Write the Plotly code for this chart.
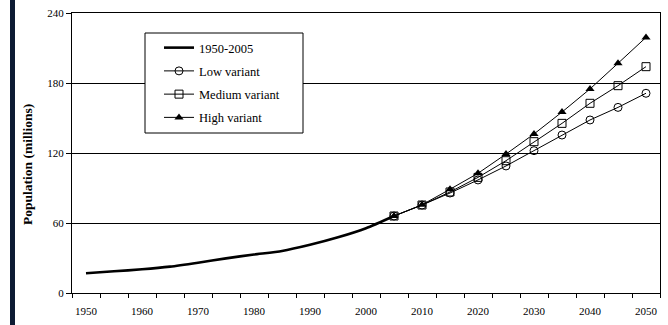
import plotly.graph_objects as go

# Historical estimates, 1950-2005 (millions)
hist_years = [1950, 1955, 1960, 1965, 1970, 1975, 1980, 1985, 1990, 1995, 2000, 2005]
hist_pop = [16.9, 18.6, 20.3, 22.6, 26.0, 29.7, 33.0, 36.0, 41.3, 47.7, 55.5, 66.0]

# Projection variants, 2005-2050 (millions)
proj_years = [2005, 2010, 2015, 2020, 2025, 2030, 2035, 2040, 2045, 2050]
low_pop = [66.0, 75.4, 85.7, 96.9, 108.9, 122.0, 135.4, 148.3, 159.1, 171.2]
medium_pop = [66.0, 75.4, 86.6, 99.1, 113.4, 129.7, 145.4, 162.6, 177.7, 194.0]
high_pop = [66.0, 75.6, 88.9, 102.6, 119.1, 136.3, 155.1, 174.9, 196.9, 219.1]

y_ticks = [0, 60, 120, 180, 240]
x_labels = list(range(1950, 2051, 10))

FONT = "Liberation Serif"
W, H = 668, 325
ML, MR, MT, MB = 72, 8, 13, 32
PW, PH = W - ML - MR, H - MT - MB


def px(x):
    return (x - ML) / PW


def py(y):
    return (H - MB - y) / PH


fig = go.Figure()

fig.add_trace(go.Scatter(
    x=hist_years, y=hist_pop, name="1950-2005", mode="lines",
    line=dict(color="black", width=2.6, shape="spline", smoothing=0.6),
    legendgroup="a",
))
fig.add_trace(go.Scatter(
    x=proj_years, y=low_pop, name="Low variant", mode="lines+markers",
    line=dict(color="black", width=1),
    marker=dict(symbol="circle-open", size=8, color="black", line=dict(width=1)),
    legendgroup="b",
))
fig.add_trace(go.Scatter(
    x=proj_years, y=medium_pop, name="Medium variant", mode="lines+markers",
    line=dict(color="black", width=1),
    marker=dict(symbol="square-open", size=8, color="black", line=dict(width=1)),
    legendgroup="c",
))
fig.add_trace(go.Scatter(
    x=proj_years, y=high_pop, name="High variant", mode="lines+markers",
    line=dict(color="black", width=1),
    marker=dict(symbol="triangle-up", size=8, color="black"),
    legendgroup="d",
))

shapes = [
    # dark strip along the left edge
    dict(type="rect", xref="paper", yref="paper",
         x0=px(10), x1=px(15), y0=py(H), y1=py(0),
         fillcolor="#0d1b33", line=dict(width=0), layer="above"),
    # legend frame
    dict(type="rect", xref="paper", yref="paper",
         x0=px(145), x1=px(303), y0=py(133), y1=py(33),
         fillcolor="white", line=dict(color="black", width=1), layer="above"),
]

fig.update_layout(
    width=W, height=H,
    margin=dict(l=ML, r=MR, t=MT, b=MB),
    paper_bgcolor="white", plot_bgcolor="white",
    font=dict(family=FONT, size=11, color="black"),
    showlegend=True,
    legend=dict(
        x=px(159), y=py(33), xanchor="left", yanchor="top",
        bgcolor="rgba(0,0,0,0)", borderwidth=0,
        font=dict(family=FONT, size=12.5, color="black"),
        traceorder="grouped", tracegroupgap=4, itemwidth=30,
    ),
    shapes=shapes,
    annotations=[dict(
        text="<b>Population (millions)</b>", textangle=-90,
        xref="paper", yref="paper", x=px(27), y=py(165),
        xanchor="center", yanchor="middle", showarrow=False,
        font=dict(family=FONT, size=13.5, color="black"),
    )],
)

fig.update_xaxes(
    range=[1947.5, 2052.5],
    tickvals=x_labels, ticktext=[str(v) for v in x_labels],
    ticks="outside", ticklen=8, tickcolor="rgba(0,0,0,0)",
    minor=dict(tick0=1947.5, dtick=5, ticks="outside", ticklen=4, tickcolor="black", showgrid=False),
    showline=True, linecolor="black", linewidth=1, mirror=True,
    showgrid=False, zeroline=False,
    tickfont=dict(family=FONT, size=11),
)
fig.update_yaxes(
    range=[0, 240], tickvals=y_ticks,
    ticks="outside", ticklen=5, tickcolor="black",
    showline=True, linecolor="black", linewidth=1, mirror=True,
    showgrid=True, gridcolor="black", gridwidth=1, zeroline=False,
    tickfont=dict(family=FONT, size=11),
)

fig.write_html("out.html")
